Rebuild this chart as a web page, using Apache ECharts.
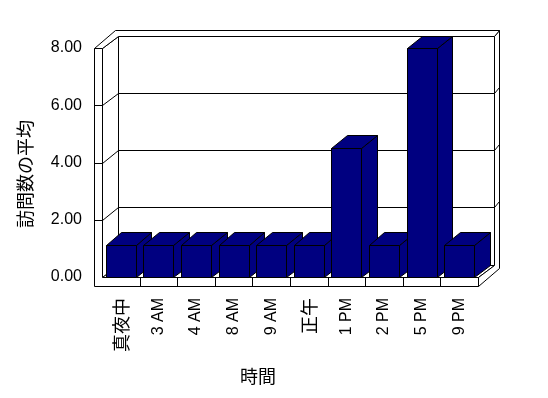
<!DOCTYPE html>
<html><head><meta charset="utf-8">
<script src="https://cdn.jsdelivr.net/npm/echarts@6/dist/echarts.min.js"></script>
<style>html,body{margin:0;padding:0;background:#fff}#c{width:548px;height:398px}</style>
</head><body><div id="c"></div>
<script>
const categories = ['真夜中', '3 AM', '4 AM', '8 AM', '9 AM', '正午', '1 PM', '2 PM', '5 PM', '9 PM'];
const visits = [1.12, 1.12, 1.12, 1.12, 1.12, 1.12, 4.52, 1.12, 8.0, 1.12];
const yTicks = [0, 2, 4, 6, 8];
const yMax = 8;

const DX = 15.5, DY = -12.5, TX = 5, TY = -6, WALL = 8, FLOOR = 9;
const NAVY = '#000080';
const FONT = '"Liberation Sans", Arial, "Noto Sans CJK JP", sans-serif';
function p(x, y) { return [Math.round(x) + 0.5, Math.round(y) + 0.5]; }

function frameItem(params, api) {
  const bw = api.size([1, 0])[0];
  const xL = api.coord([0, 0])[0] - bw / 2;
  const xR = api.coord([categories.length - 1, 0])[0] + bw / 2;
  const y0 = api.coord([0, 0])[1];
  const yT = api.coord([0, yMax])[1];
  const st = { fill: '#fff', stroke: '#000', lineWidth: 1 };
  const ls = { stroke: '#000', lineWidth: 1, fill: null };
  const poly = pts => ({ type: 'polygon', shape: { points: pts.map(q => p(q[0], q[1])) }, style: st });
  const line = pts => ({ type: 'polyline', shape: { points: pts.map(q => p(q[0], q[1])) }, style: ls });
  const ch = [];
  ch.push(poly([[xL + DX, yT + DY], [xR + DX, yT + DY], [xR + DX, y0 + DY], [xL + DX, y0 + DY]]));
  ch.push(poly([[xL, yT], [xL + DX, yT + DY], [xL + DX, y0 + DY], [xL, y0]]));
  ch.push(poly([[xL, y0], [xR, y0], [xR + DX, y0 + DY], [xL + DX, y0 + DY]]));
  ch.push(poly([[xR + DX, yT + DY], [xR + DX + TX, yT + DY + TY], [xR + DX + TX, y0 + FLOOR + DY + TY], [xR, y0 + FLOOR], [xR, y0], [xR + DX, y0 + DY]]));
  ch.push(poly([[xL - WALL, yT], [xL - WALL + DX + TX, yT + DY + TY], [xR + DX + TX, yT + DY + TY], [xR + DX, yT + DY], [xL + DX, yT + DY], [xL, yT]]));
  ch.push(poly([[xL - WALL, yT], [xL, yT], [xL, y0], [xR, y0], [xR, y0 + FLOOR], [xL - WALL, y0 + FLOOR]]));
  yTicks.forEach(v => {
    if (v <= 0 || v >= yMax) return;
    const y = api.coord([0, v])[1];
    ch.push(line([[xL - WALL, y], [xL, y], [xL + DX, y + DY], [xR + DX, y + DY], [xR + DX + TX, y + DY + TY]]));
  });
  for (let i = 1; i < categories.length; i++) {
    const x = xL + i * bw;
    ch.push(line([[x, y0], [x, y0 + FLOOR]]));
  }
  return { type: 'group', children: ch };
}

function barItem(params, api) {
  const i = api.value(0), v = api.value(1);
  const c = api.coord([i, v]);
  const y0 = api.coord([i, 0])[1];
  const w = api.size([1, 0])[0] * 0.8;
  const x0 = c[0] - w / 2, x1 = c[0] + w / 2, yv = c[1];
  const st = { fill: NAVY, stroke: '#000', lineWidth: 1 };
  const poly = pts => ({ type: 'polygon', shape: { points: pts.map(q => p(q[0], q[1])) }, style: st });
  return {
    type: 'group', children: [
      poly([[x1, yv], [x1 + DX, yv + DY], [x1 + DX, y0 + DY], [x1, y0]]),
      poly([[x0, yv], [x0 + DX, yv + DY], [x1 + DX, yv + DY], [x1, yv]]),
      poly([[x0, yv], [x1, yv], [x1, y0], [x0, y0]])
    ]
  };
}

const chart = echarts.init(document.getElementById('c'), null, { renderer: 'canvas' });
chart.setOption({
  animation: false,
  backgroundColor: '#fff',
  grid: { left: 102, right: 70, top: 48, bottom: 121 },
  xAxis: {
    type: 'category', data: categories,
    axisLine: { show: false }, axisTick: { show: false }, splitLine: { show: false },
    axisLabel: {
      rotate: 90, margin: 21, fontSize: 16, color: '#000', fontFamily: FONT, interval: 0,
      formatter: v => /[^\x00-\x7f]/.test(v) ? '{c|' + v + '}' : v,
      rich: { c: { fontSize: 18, fontFamily: '"Noto Sans CJK JP", sans-serif', color: '#000' } }
    },
    name: '時間', nameLocation: 'middle', nameGap: 90,
    nameTextStyle: { fontSize: 18, color: '#000', fontFamily: '"Noto Sans CJK JP", sans-serif', padding: [0, 64, 0, 0] }
  },
  yAxis: {
    type: 'value', min: 0, max: yMax, interval: 2,
    axisLine: { show: false }, axisTick: { show: false }, splitLine: { show: false },
    axisLabel: { margin: 20, fontSize: 16, color: '#000', fontFamily: FONT, formatter: v => v.toFixed(2) },
    name: '訪問数の平均', nameLocation: 'middle', nameGap: 68,
    nameTextStyle: { fontSize: 18, color: '#000', fontFamily: '"Noto Sans CJK JP", sans-serif', padding: [0, 23, 0, 0] }
  },
  series: [
    { type: 'custom', renderItem: frameItem, data: [[0, 0]], silent: true, clip: false },
    { type: 'custom', renderItem: barItem, data: visits.map((v, i) => [i, v]), encode: { x: 0, y: 1 }, clip: false }
  ]
});
</script>
</body></html>
